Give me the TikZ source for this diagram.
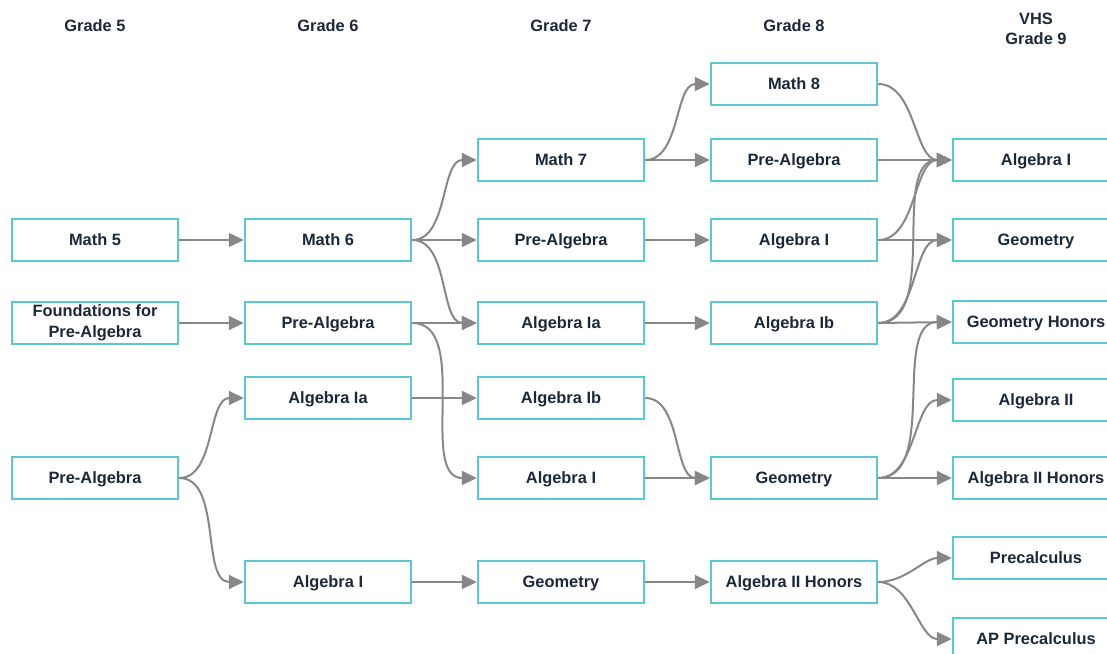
\documentclass[tikz,border=0pt]{standalone}
\usepackage{fontspec}
\setmainfont{Liberation Sans}
\usetikzlibrary{arrows.meta}
\definecolor{boxc}{HTML}{5CC7D1}
\definecolor{txtc}{HTML}{1C2838}
\definecolor{arrc}{HTML}{878787}
\tikzset{
  box0/.style={draw=boxc, line width=2.5pt, fill=white, minimum width=166pt, minimum height=42pt,
    inner sep=0pt, align=center, text=txtc, font=\bfseries\fontsize{16.4}{21}\selectfont},
  box/.style={box0, text height=11.8pt, text depth=0pt},
  hdr/.style={text=txtc, font=\bfseries\fontsize{16.4}{21}\selectfont, inner sep=0pt},
  conn/.style={draw=arrc, line width=2pt, -{Triangle[length=15pt,width=14pt]}},
  sc/.style={conn, out=0, in=180, looseness=0.9}
}
\begin{document}
\begin{tikzpicture}[x=1pt,y=-1pt]
\useasboundingbox (0,0) rectangle (1107,653);
\clip (0,0) rectangle (1107,653);
% headers
\node[hdr] (h5) at (95,26) {Grade 5};
\node[hdr] (h6) at (328,26) {Grade 6};
\node[hdr] (h7) at (561,26) {Grade 7};
\node[hdr] (h8) at (794,26) {Grade 8};
\node[hdr, anchor=base] (h9a) at (1036,24) {VHS};
\node[hdr, anchor=base] (h9b) at (1036,44) {Grade 9};
% grade 5
\node[box] (m5) at (95,240) {Math 5};
\node[box0] (f5) at (95,323) {Foundations for\\Pre-Algebra};
\node[box] (p5) at (95,478) {Pre-Algebra};
% grade 6
\node[box] (m6) at (328,240) {Math 6};
\node[box] (p6) at (328,323) {Pre-Algebra};
\node[box] (a6) at (328,398) {Algebra Ia};
\node[box] (i6) at (328,582) {Algebra I};
% grade 7
\node[box] (m7) at (561,160) {Math 7};
\node[box] (p7) at (561,240) {Pre-Algebra};
\node[box] (a7) at (561,323) {Algebra Ia};
\node[box] (b7) at (561,398) {Algebra Ib};
\node[box] (i7) at (561,478) {Algebra I};
\node[box] (g7) at (561,582) {Geometry};
% grade 8
\node[box] (m8) at (794,84) {Math 8};
\node[box] (p8) at (794,160) {Pre-Algebra};
\node[box] (i8) at (794,240) {Algebra I};
\node[box] (b8) at (794,323) {Algebra Ib};
\node[box] (g8) at (794,478) {Geometry};
\node[box] (h8b) at (794,582) {Algebra II Honors};
% grade 9
\node[box] (i9) at (1036,160) {Algebra I};
\node[box] (g9) at (1036,240) {Geometry};
\node[box] (gh9) at (1036,322) {Geometry Honors};
\node[box] (a9) at (1036,400) {Algebra II};
\node[box] (ah9) at (1036,478) {Algebra II Honors};
\node[box] (pc9) at (1036,558) {Precalculus};
\node[box] (ap9) at (1036,639) {AP Precalculus};
% connectors 5->6
\draw[conn] (m5.east) -- (m6.west);
\draw[conn] (f5.east) -- (p6.west);
\draw[sc] (p5.east) to (a6.west);
\draw[sc] (p5.east) to (i6.west);
% 6->7
\draw[sc] (m6.east) to (m7.west);
\draw[conn] (m6.east) -- (p7.west);
\draw[sc] (m6.east) to (a7.west);
\draw[conn] (p6.east) -- (a7.west);
\draw[sc] (p6.east) to (i7.west);
\draw[conn] (a6.east) -- (b7.west);
\draw[conn] (i6.east) -- (g7.west);
% 7->8
\draw[sc] (m7.east) to (m8.west);
\draw[conn] (m7.east) -- (p8.west);
\draw[conn] (p7.east) -- (i8.west);
\draw[conn] (a7.east) -- (b8.west);
\draw[sc] (b7.east) to (g8.west);
\draw[conn] (i7.east) -- (g8.west);
\draw[conn] (g7.east) -- (h8b.west);
% 8->9
\draw[sc] (m8.east) to (i9.west);
\draw[conn] (p8.east) -- (i9.west);
\draw[sc] (i8.east) to (i9.west);
\draw[conn] (i8.east) -- (g9.west);
\draw[sc] (b8.east) to (i9.west);
\draw[sc] (b8.east) to (g9.west);
\draw[conn] (b8.east) -- (gh9.west);
\draw[sc] (g8.east) to (gh9.west);
\draw[sc] (g8.east) to (a9.west);
\draw[conn] (g8.east) -- (ah9.west);
\draw[sc] (h8b.east) to (pc9.west);
\draw[sc] (h8b.east) to (ap9.west);
\end{tikzpicture}
\end{document}
